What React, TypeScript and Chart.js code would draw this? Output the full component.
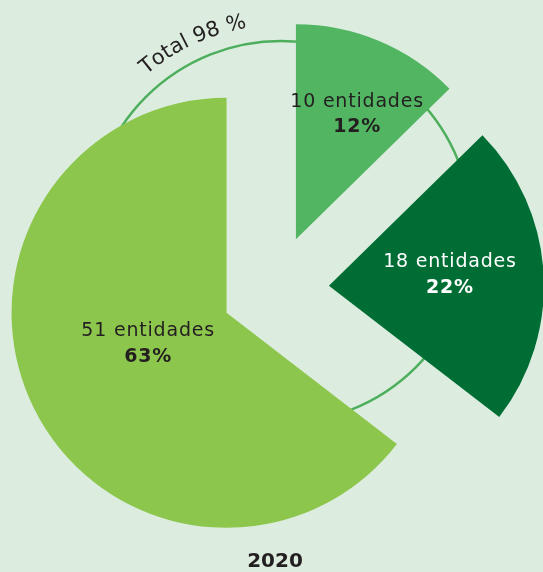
import React, { useEffect, useRef } from "react";
import { Chart, registerables } from "chart.js";

Chart.register(...registerables);

// ---- data ----
const categories = ["10 entidades", "18 entidades", "51 entidades"];
const entityCounts = [10, 18, 51];
const percentLabels = ["12%", "22%", "63%"];
const totalLabel = "Total 98 %";
const yearLabel = "2020";

// ---- styles ----
const sliceColors = ["#52b562", "#006e34", "#8dc64c"];
const labelColors = ["#231f20", "#ffffff", "#231f20"];
const explode = [54, 54, 54];
const labelRadial = [0.654, 0.566, 0.39];
const labelAngleTweak = [3.0, -2.4, 5.5];
const PIE_RADIUS = 215;
const RING_DX = 6;
const RING_DY = -57;
const RING_R = 191;
const FONT = '"DejaVu Sans", sans-serif';
const BG = "#dcede0";

function drawArcText(ctx: CanvasRenderingContext2D, text: string, cx: number, cy: number, r: number, centerAngle: number) {
  const total = ctx.measureText(text).width;
  let a = centerAngle - total / (2 * r);
  for (const ch of text) {
    const w = ctx.measureText(ch).width;
    const ang = a + w / (2 * r);
    ctx.save();
    ctx.translate(cx + r * Math.cos(ang), cy + r * Math.sin(ang));
    ctx.rotate(ang + Math.PI / 2);
    ctx.fillText(ch, 0, 0);
    ctx.restore();
    a += w / r;
  }
}

export default function App() {
  const ref = useRef<HTMLCanvasElement>(null);

  useEffect(() => {
    if (!ref.current) return;

    const explodePlugin = {
      id: "explodeSlices",
      afterDatasetsUpdate(chart: any) {
        const meta = chart.getDatasetMeta(0);
        meta.data.forEach((arc: any, i: number) => {
          const mid = (arc.startAngle + arc.endAngle) / 2;
          arc.x = arc.x + Math.cos(mid) * explode[i];
          arc.y = arc.y + Math.sin(mid) * explode[i];
        });
      },
    };

    const ringPlugin = {
      id: "totalRing",
      beforeDatasetsDraw(chart: any) {
        const { ctx, chartArea } = chart;
        const cx = (chartArea.left + chartArea.right) / 2 + RING_DX;
        const cy = (chartArea.top + chartArea.bottom) / 2 + RING_DY;
        ctx.save();
        ctx.beginPath();
        ctx.arc(cx, cy, RING_R, 0, Math.PI * 2);
        ctx.strokeStyle = "#4dae5c";
        ctx.lineWidth = 2.5;
        ctx.stroke();
        ctx.fillStyle = "#231f20";
        ctx.font = `400 21px ${FONT}`;
        ctx.textAlign = "center";
        ctx.textBaseline = "alphabetic";
        drawArcText(ctx, totalLabel, cx, cy, RING_R + 16, (-115.5 * Math.PI) / 180);
        ctx.restore();
      },
    };

    const labelPlugin = {
      id: "sliceLabels",
      afterDatasetsDraw(chart: any) {
        const { ctx } = chart;
        const meta = chart.getDatasetMeta(0);
        ctx.save();
        ctx.textAlign = "center";
        ctx.textBaseline = "middle";
        try { (ctx as any).letterSpacing = "0.8px"; } catch (e) {}
        meta.data.forEach((arc: any, i: number) => {
          const mid = (arc.startAngle + arc.endAngle) / 2 + (labelAngleTweak[i] * Math.PI) / 180;
          const r = arc.outerRadius * labelRadial[i];
          const x = arc.x + Math.cos(mid) * r;
          const y = arc.y + Math.sin(mid) * r;
          ctx.fillStyle = labelColors[i];
          ctx.font = `400 19px ${FONT}`;
          ctx.fillText(categories[i], x, y - 11);
          ctx.font = `700 19px ${FONT}`;
          ctx.fillText(percentLabels[i], x, y + 14.5);
        });
        ctx.restore();
      },
    };

    const chart = new Chart(ref.current, {
      type: "pie",
      data: {
        labels: categories,
        datasets: [
          {
            data: entityCounts,
            backgroundColor: sliceColors,
            borderWidth: 0,
          },
        ],
      },
      options: {
        responsive: false,
        animation: false,
        events: [],
        radius: PIE_RADIUS,
        layout: { padding: { left: 7, right: 0, top: 26, bottom: 0 } },
        plugins: {
          legend: { display: false },
          tooltip: { enabled: false },
          title: {
            display: true,
            text: yearLabel,
            position: "bottom",
            color: "#231f20",
            font: { family: FONT, size: 20, weight: "bold", lineHeight: 1.0 },
            padding: 0,
          },
        },
      } as any,
      plugins: [explodePlugin, ringPlugin, labelPlugin],
    });

    return () => chart.destroy();
  }, []);

  return (
    <div style={{ position: "fixed", left: 0, top: 0, width: 543, height: 572, background: BG }}>
      <canvas ref={ref} width={543} height={572} style={{ display: "block" }} />
    </div>
  );
}
